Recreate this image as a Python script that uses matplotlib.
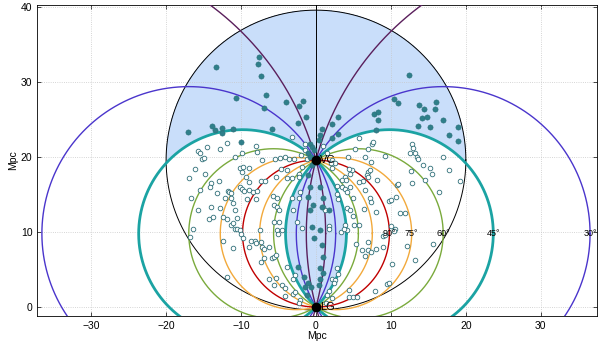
import numpy as np
import matplotlib
matplotlib.use('Agg')
import matplotlib.pyplot as plt

plt.rcParams['font.family'] = ['Liberation Sans', 'DejaVu Sans']

# --- Geometry ---
d_vc = 19.6          # LG -> VC distance (Mpc)
r_sphere = 20.0      # radius of black circle around VC
angles = [15, 30, 45, 60, 75, 90]
label_angles = [90, 75, 60, 45, 30]

# --- Galaxies ---
filled_x = [-13.4, -7.6, -7.7, -7.3, -6.7, -10.7, -6.9, -4.0, -2.2, -1.7,
            12.4, 10.4, 10.9, 13.7, 16.0, 14.4, 15.9,
            -17.1, -13.9, -13.5, -12.6, -12.6, -11.1, -10.0, -5.9, -2.4, -1.3,
            7.8, 8.3, 8.3, 2.9, 2.1, 2.2, 3.0, 8.0, 13.6, 14.1, 14.8, 15.2, 17.0, 17.8,
            19.0, 19.0, 0.8, 0.6, 0.4,
            -0.8, -0.5, -0.3, -1.0, -0.8, -0.2, -0.5, -1.0, -0.8, -1.0, -0.4, -0.8,
            0.6, 1.0, 0.8, 1.8,
            0.6, 0.8, 0.9, 0.6, 1.0, 0.5, 0.4,
            -2.4, -0.5, -0.3, -1.6, -1.0, -0.7, -1.4, -1.2]
filled_y = [32.0, 33.4, 32.4, 30.8, 28.3, 27.9, 26.6, 27.3, 26.8, 27.5,
            31.0, 27.8, 27.2, 26.9, 27.3, 26.4, 26.4,
            23.3, 24.2, 23.6, 23.9, 23.2, 23.8, 22.0, 23.7, 24.6, 25.3,
            25.8, 26.0, 25.0, 25.3, 24.4, 22.5, 23.1, 23.6, 24.1, 25.2, 25.3, 24.0, 24.9, 22.9,
            24.0, 22.2, 23.8, 22.9, 22.3,
            21.8, 21.4, 20.9, 20.5, 20.0, 19.4, 18.9, 17.6, 16.0, 14.7, 13.6, 12.9,
            16.0, 14.5, 13.4, 12.9,
            10.3, 8.3, 6.7, 5.2, 4.6, 3.8, 2.9,
            5.4, 10.7, 9.2, 4.0, 3.2, 2.7, 2.7, 1.6]

open_x = [-14.5, -12.8, -11.9, -15.7, -15.5, -15.2, -15.0, -10.8, -9.9, -8.0, -7.9,
          -3.2, -4.8, -2.9, -1.4, -16.2, -17.0, -14.8, -13.0, -14.0, -14.1, -15.5,
          -16.7, -15.8, -14.0, -12.8, -13.2, -11.7, -11.6, -11.4, -12.1, -11.4,
          -11.1, -10.8, -10.1, -9.8, -9.0, -9.9, -9.3, -9.0, -10.1, -9.9, -9.6,
          -9.0, -8.4, -7.9, -9.2, -8.0, -7.4, -6.8, -7.2, -5.5, -4.1, -3.6, -4.7,
          -3.9, -5.3, -3.9, -3.2, -5.7, -5.2, -5.6, -5.2, -5.0, -3.2, -2.3, -2.1,
          -1.9, -2.3, -2.3, -3.0,
          5.7, 7.5, 7.6, 5.2, 7.0, 4.3, 6.6, 7.4, 9.2, 12.8, 13.0, 12.6, 13.2,
          13.5, 13.6, 17.0, 17.7, 14.3, 15.2, 15.5, 12.7, 14.6, 12.8, 16.4,
          2.1, 2.6, 2.1, 4.8, 4.4, 4.6, 7.0, 7.2, 6.8, 7.0, 3.9, 3.5, 4.0, 8.1,
          6.3, 5.7, 2.8, 3.5, 3.9, 4.6, 4.2, 6.5, 10.8, 11.0, 2.8, 2.9, 5.0,
          7.2, 7.3, 9.7, 10.0, 10.7, 4.1, 4.6, 6.4, 8.0, 11.2, 11.9, 1.0, 1.2,
          -14.3, -13.7, -12.4, -11.9, -10.5, -11.4, -11.1, -10.8, -10.5, -10.1,
          -10.0, -9.8, -16.4, -16.8, -12.4, -11.1, -11.9, -9.0, -8.7, -8.1, -8.0,
          -7.5, -7.4, -7.2, -6.9, -6.3, -5.6, -5.0, -5.2, -5.1, -4.5, -7.4, -6.9,
          -5.9, -5.6, -5.4, -6.3, -5.3, -5.6, -4.5, -4.2, -4.2, -3.9, -3.0, -2.8,
          -3.1, -2.8, -2.1, -2.3, -1.9, -2.5,
          5.0, 5.1, 5.7, 3.9, 4.1, 3.3, 3.7, 5.4, 7.0, 6.1, 7.0, 7.4, 8.0, 8.9,
          6.5, 9.0, 9.2, 10.0, 10.6, 10.4, 12.1, 10.1, 13.2, 15.6, 9.5, 9.7, 7.9,
          4.4, 4.4, 5.0, 5.5, 2.8, 2.9, 2.1, 2.6, 2.4, 1.8, 1.5, 2.1, 1.4, 1.8, 1.7,
          19.2, -1.5, -2.0, -1.2, 1.5, 1.0, 2.0]
open_y = [21.3, 21.1, 21.9, 20.8, 20.5, 19.8, 19.9, 20.0, 20.5, 21.5, 20.7,
          22.7, 19.9, 19.7, 21.8, 18.4, 17.2, 17.8, 16.8, 16.6, 16.0, 15.6,
          14.5, 12.9, 13.4, 13.2, 15.2, 15.5, 15.4, 15.2, 14.5, 14.6,
          13.9, 12.9, 18.6, 18.7, 18.6, 18.0, 17.4, 16.7, 16.0, 15.7, 15.5,
          15.6, 15.3, 15.5, 14.4, 14.4, 16.8, 16.8, 19.6, 19.8, 20.0, 19.8, 18.4,
          18.3, 17.4, 17.2, 17.2, 14.8, 14.5, 13.6, 13.4, 12.9, 14.6, 14.6, 15.4,
          18.7, 17.8, 17.4, 12.9,
          22.5, 21.8, 22.0, 21.1, 21.1, 20.0, 20.0, 19.4, 20.1, 21.8, 21.2, 20.6, 20.6,
          20.0, 19.7, 20.0, 18.3, 18.9, 18.5, 17.8, 18.2, 16.9, 16.5, 15.4,
          19.6, 19.2, 18.5, 18.3, 18.4, 17.7, 18.0, 18.3, 17.6, 17.4, 17.4, 16.9, 16.9, 17.0,
          16.8, 16.7, 16.2, 16.0, 15.8, 16.0, 15.4, 15.6, 16.3, 16.4, 15.1, 14.4, 14.5,
          14.5, 14.0, 14.2, 14.3, 14.7, 13.2, 12.9, 13.1, 12.7, 12.6, 12.5, 13.3, 12.9,
          11.7, 12.0, 12.0, 11.7, 11.9, 10.9, 11.2, 10.4, 10.4, 10.3,
          9.7, 9.2, 10.4, 9.3, 8.8, 7.9, 4.0, 8.0, 8.8, 8.8, 8.5,
          10.3, 8.7, 8.0, 7.8, 8.0, 11.3, 11.3, 10.3, 9.7, 10.3, 6.0, 6.6,
          6.5, 6.7, 6.9, 3.8, 3.9, 2.9, 2.9, 2.6, 1.5, 5.4, 3.8, 4.3,
          1.8, 2.0, 0.9, 0.5, 10.5, 11.4,
          12.1, 10.9, 10.9, 10.9, 10.3, 10.0, 10.4, 8.4, 8.7, 7.6, 7.6, 7.4, 7.8, 8.0,
          6.8, 9.5, 9.6, 10.8, 10.4, 10.1, 8.1, 5.7, 6.3, 8.4, 3.1, 3.2, 2.1,
          2.3, 1.4, 1.4, 1.3, 5.2, 4.4, 3.8, 3.6, 3.2, 2.1, 1.6, 1.2, 0.5, 10.8, 10.4,
          16.8, 21.0, 20.3, 19.8, 20.5, 21.5, 19.2]

circle_colors = {15: '#5a1f5c', 30: '#4a35cc', 45: '#1ba3a3',
                 60: '#7aaa3c', 75: '#f2a93b', 90: '#c00000'}

fig = plt.figure(figsize=(6, 3.5), dpi=100)
ax = fig.add_axes([0.062, 0.097, 0.933, 0.889])

# --- Shaded region: inside sphere and angle <45 or >135 deg ---
gx, gy = np.meshgrid(np.linspace(-21, 21, 1400), np.linspace(-1, 41, 1400))
ax_, ay_ = -gx, -gy
bx_, by_ = -gx, d_vc - gy
cosang = (ax_ * bx_ + ay_ * by_) / (np.hypot(ax_, ay_) * np.hypot(bx_, by_) + 1e-12)
inside = gx**2 + (gy - d_vc)**2 <= r_sphere**2
mask = (inside & (np.abs(cosang) >= np.cos(np.radians(45)))).astype(float)
ax.contourf(gx, gy, mask, levels=[0.5, 1.5], colors=['#c9defa'], zorder=0)

t = np.linspace(0, 2 * np.pi, 720)
ax.plot(r_sphere * np.cos(t), d_vc + r_sphere * np.sin(t), color='k', lw=0.7, zorder=2)
ax.plot([0, 0], [d_vc, 41], color='k', lw=0.7, zorder=2)

# --- Constant-angle circles through LG and VC ---
for a in angles:
    R = d_vc / (2 * np.sin(np.radians(a)))
    cx = (d_vc / 2) / np.tan(np.radians(a))
    lw = 2.0 if a == 45 else 1.0
    for s in ([1] if a == 90 else [1, -1]):
        ax.plot(s * cx + R * np.cos(t), d_vc / 2 + R * np.sin(t),
                color=circle_colors[a], lw=lw, zorder=3)

for a in label_angles:
    xr = (d_vc / 2) / np.tan(np.radians(a / 2))
    ax.text(xr, d_vc / 2, '%d°' % a, fontsize=6.5, ha='center', va='center', zorder=6)

ax.scatter(open_x, open_y, s=11, facecolors='white', edgecolors='#2f6f78',
           linewidths=0.6, zorder=4)
ax.scatter(filled_x, filled_y, s=14, color='#2f7f8a', edgecolors='#2a6f78',
           linewidths=0.4, zorder=5)

ax.plot([0, 0], [0, d_vc], 'o', color='k', markersize=6, zorder=7)
ax.text(0.5, 0, 'LG', fontsize=8, ha='left', va='center', zorder=7)
ax.text(0.5, d_vc, 'VC', fontsize=8, ha='left', va='center', zorder=7)

ax.set_xlim(-37.2, 37.5)
ax.set_ylim(-1.2, 40.3)
ax.set_xticks([-30, -20, -10, 0, 10, 20, 30])
ax.set_yticks([0, 10, 20, 30, 40])
ax.grid(True, linestyle=':', color='#c8c8c8', lw=0.6)
ax.set_axisbelow(True)
ax.tick_params(direction='in', top=True, right=True, labelsize=7.5, length=3, width=0.5)
for sp in ax.spines.values():
    sp.set_linewidth(0.6)
ax.set_xlabel('Mpc', fontsize=7.5, labelpad=0)
ax.set_ylabel('Mpc', fontsize=7.5, labelpad=2)

fig.savefig('out.png', dpi=100)
